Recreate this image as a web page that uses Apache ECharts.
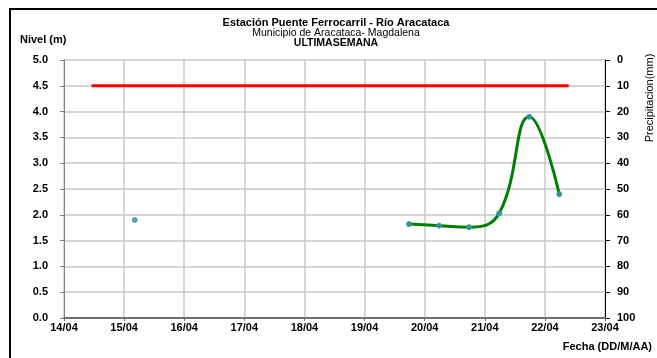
<!DOCTYPE html>
<html><head><meta charset="utf-8">
<script src="https://cdn.jsdelivr.net/npm/echarts@6/dist/echarts.min.js"></script>
<style>html,body{margin:0;padding:0;background:#fff}#c{width:657px;height:358px}</style>
</head><body><div id="c"></div>
<script>
const dateTicks = ['14/04','15/04','16/04','17/04','18/04','19/04','20/04','21/04','22/04','23/04'];
const nivelTicks = [0,0.5,1,1.5,2,2.5,3,3.5,4,4.5,5];
const precipTicks = [0,10,20,30,40,50,60,70,80,90,100];
// level readings (time "DD/MM HH:mm", meters)
const nivelTimes = ['19/04 17:45','20/04 05:45','20/04 17:45','21/04 05:45','21/04 17:45','22/04 05:45'];
const nivelValues = [1.82,1.79,1.76,2.03,3.90,2.40];
const isolatedTimes = ['15/04 04:15'];
const isolatedValues = [1.90];
// alert threshold
const alertTimes = ['14/04 11:00','22/04 09:30'];
const alertValues = [4.5,4.5];

function dayOffset(s){
  const [d,t] = s.split(' ');
  const [dd] = d.split('/').map(Number);
  const [hh,mm] = t.split(':').map(Number);
  return (dd - 14) + (hh + mm/60)/24;
}
const pairs = (ts, vs) => ts.map((t,i)=>[dayOffset(t), vs[i]]);

const font = 'Liberation Sans, Arial, sans-serif';
const chart = echarts.init(document.getElementById('c'), null, {renderer:'canvas'});
chart.setOption({
  animation:false,
  backgroundColor:'#fff',
  title:[
    {text:'Estación Puente Ferrocarril - Río Aracataca', left:331, top:12, textAlign:'center',
     textStyle:{fontFamily:font,fontSize:11,fontWeight:'bold',color:'#000'}},
    {text:'Municipio de Aracataca- Magdalena', left:331, top:23, textAlign:'center',
     textStyle:{fontFamily:font,fontSize:10.5,fontWeight:'normal',color:'#000'}},
    {text:'ULTIMASEMANA', left:331, top:33, textAlign:'center',
     textStyle:{fontFamily:font,fontSize:10.5,fontWeight:'bold',color:'#000'}}
  ],
  graphic:[
    {type:'rect', shape:{x:10,y:9,width:700,height:400}, style:{fill:'none',stroke:'#000',lineWidth:2}, z:100},
    {type:'text', left:20, top:34, style:{text:'Nivel (m)', fontFamily:font, fontSize:11, fontWeight:'bold', fill:'#000'}},
    {type:'text', right:5, top:341, style:{text:'Fecha (DD/M/AA)', fontFamily:font, fontSize:11, fontWeight:'bold', fill:'#000'}},
    {type:'text', x:650, y:98, rotation:Math.PI/2, style:{text:'Precipitacion(mm)', fontFamily:font, fontSize:11, fill:'#000', align:'center', verticalAlign:'middle'}}
  ],
  grid:{left:64, right:52, top:60, bottom:40},
  xAxis:{
    type:'value', min:0, max:dateTicks.length-1, interval:1,
    axisLine:{lineStyle:{color:'#707070',width:2}},
    axisTick:{show:true, inside:false, length:3, lineStyle:{color:'#707070'}},
    axisLabel:{fontFamily:font,fontSize:11,fontWeight:'bold',color:'#000',margin:4,
      formatter:v=>dateTicks[Math.round(v)]},
    splitLine:{show:true,lineStyle:{color:'#c8c8c8',width:1.5}}
  },
  yAxis:[
    {type:'value', min:nivelTicks[0], max:nivelTicks[nivelTicks.length-1], interval:0.5, position:'left',
     axisLine:{show:true,lineStyle:{color:'#808080',width:1}},
     axisTick:{show:true,length:4,lineStyle:{color:'#808080'}},
     axisLabel:{fontFamily:font,fontSize:11,fontWeight:'bold',color:'#000',margin:16,formatter:v=>v.toFixed(1)},
     splitLine:{show:true,lineStyle:{color:'#c8c8c8',width:1.5}}},
    {type:'value', min:precipTicks[0], max:precipTicks[precipTicks.length-1], interval:10, inverse:true, position:'right',
     axisLine:{show:true,lineStyle:{color:'#000',width:1}},
     axisTick:{show:true,length:5,lineStyle:{color:'#000'}},
     axisLabel:{fontFamily:font,fontSize:11,fontWeight:'bold',color:'#000',margin:12},
     splitLine:{show:false}}
  ],
  series:[
    {type:'line', data:pairs(alertTimes,alertValues), showSymbol:false, symbol:'none',
     lineStyle:{color:'#ff0000',width:3}, z:3},
    {type:'line', data:pairs(nivelTimes,nivelValues), smooth:0.45, symbol:'circle', symbolSize:5,
     lineStyle:{color:'#008000',width:3},
     itemStyle:{color:'#2a9a78',borderColor:'#4f8fc0',borderWidth:1}, z:4},
    {type:'scatter', data:pairs(isolatedTimes,isolatedValues), symbol:'circle', symbolSize:5,
     itemStyle:{color:'#2a9a78',borderColor:'#4f8fc0',borderWidth:1}, z:4}
  ]
});
</script></body></html>
